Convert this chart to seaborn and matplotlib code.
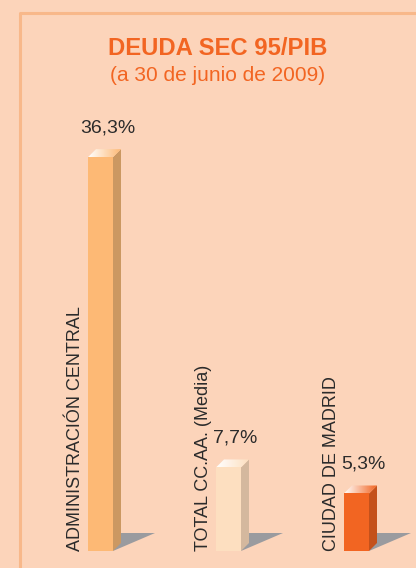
import matplotlib
matplotlib.use("Agg")
import matplotlib.pyplot as plt
import matplotlib.transforms as mtransforms
from matplotlib.patches import Polygon
from matplotlib.lines import Line2D
import numpy as np
import seaborn as sns

# ---- data ----
categories = ["ADMINISTRACIÓN CENTRAL", "TOTAL CC.AA. (Media)", "CIUDAD DE MADRID"]
values = [36.3, 7.7, 5.3]
value_labels = ["36,3%", "7,7%", "5,3%"]
title = "DEUDA SEC 95/PIB"
subtitle = "(a 30 de junio de 2009)"

# ---- style ----
bg = "#FCD4BA"
border = "#F8B88A"
orange = "#F26522"
front_colors = ["#FDB975", "#FDDFC0", "#F26522"]
side_colors = ["#CB9862", "#D4B89E", "#C4511B"]
shadow_color = "#9A9B9F"
text_color = "#2B2B2B"

sns.set_theme(style="white")
plt.rcParams["font.family"] = ["Liberation Sans", "DejaVu Sans"]

W, H = 416, 568
fig = plt.figure(figsize=(W / 100, H / 100), dpi=100)
fig.patch.set_facecolor(bg)
ax = fig.add_axes([0, 0, 1, 1])
ax.set_facecolor(bg)

xpx, ypx = 128.0, 10.85  # pixels per data unit
x0px, y0px = 100.5, 551.0
ax.set_xlim(-x0px / xpx, (W - x0px) / xpx)
ax.set_ylim(-(H - y0px) / ypx, y0px / ypx)

sns.barplot(x=categories, y=values, hue=categories, palette=front_colors,
            width=25 / 128, saturation=1, legend=False, ax=ax, zorder=3,
            linewidth=0)
ax.set_axis_off()

def d(dxp, dyp):
    return dxp / xpx, dyp / ypx

ddx, ddy = d(8, 8)
sdx1, sdy = d(8, 18)
sdx2, _ = d(42, 18)

bars = sorted(ax.patches, key=lambda p: p.get_x())
for i, p in enumerate(bars):
    x0 = p.get_x()
    w = p.get_width()
    h = p.get_height()
    x1 = x0 + w
    # shadow
    ax.add_patch(Polygon([(x1, 0), (x1 + sdx1, sdy), (x1 + sdx2, sdy)],
                         closed=True, fc=shadow_color, ec="none", zorder=1))
    # side face
    ax.add_patch(Polygon([(x1, 0), (x1 + ddx, ddy), (x1 + ddx, h + ddy), (x1, h)],
                         closed=True, fc=side_colors[i], ec="none", zorder=3))
    # top face with gradient
    top = Polygon([(x0, h), (x1, h), (x1 + ddx, h + ddy), (x0 + ddx, h + ddy)],
                  closed=True, fc="none", ec="none", zorder=4)
    ax.add_patch(top)
    c = np.array(matplotlib.colors.to_rgb(front_colors[i]))
    t = np.linspace(0, 1, 64)[None, :, None]
    grad = (1 - t) * np.array([1.0, 1.0, 1.0]) + t * c
    im = ax.imshow(grad, extent=[x0, x1 + ddx, h, h + ddy], aspect="auto",
                   zorder=4, interpolation="bilinear")
    im.set_clip_path(top)
    # value label
    tr = mtransforms.offset_copy(ax.transData, fig=fig, x=7, y=13, units="dots")
    ax.text(x0 + w / 2, h + ddy, value_labels[i], transform=tr, ha="center",
            va="bottom", fontsize=14, color=text_color, zorder=5)
    # category label (vertical)
    tr2 = mtransforms.offset_copy(ax.transData, fig=fig, x=-4, y=0, units="dots")
    ax.text(x0, 0, categories[i], transform=tr2, rotation=90, ha="right",
            va="bottom", fontsize=13, color=text_color, zorder=5)

# reset limits after imshow
ax.set_xlim(-x0px / xpx, (W - x0px) / xpx)
ax.set_ylim(-(H - y0px) / ypx, y0px / ypx)

# frame line
fig.add_artist(Line2D([20 / W, 20 / W, 1.02], [-0.02, 1 - 13 / H, 1 - 13 / H],
                      transform=fig.transFigure, color=border, lw=2.2))

fig.text(218 / W, 1 - 55 / H, title, ha="center", va="baseline",
         fontsize=17.2, fontweight="bold", color=orange)
fig.text(218 / W, 1 - 81 / H, subtitle, ha="center", va="baseline",
         fontsize=15, color=orange)

fig.savefig("out.png", dpi=100, facecolor=bg)
